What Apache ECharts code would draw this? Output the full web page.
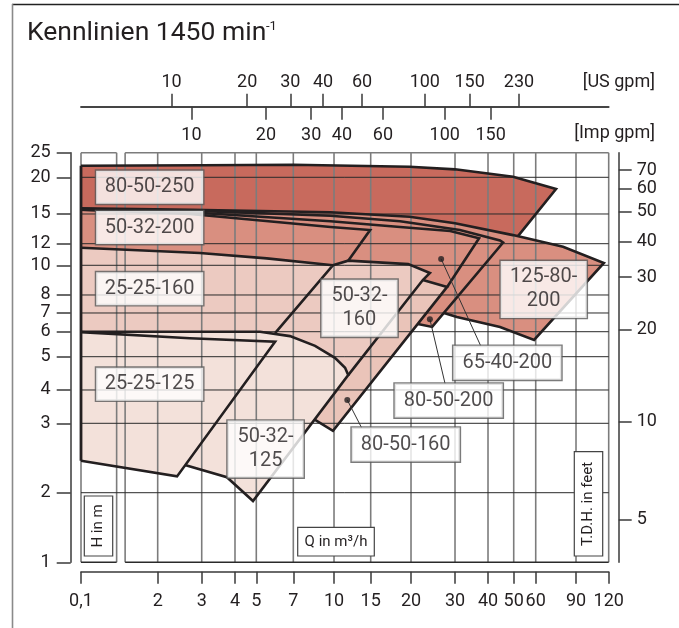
<!DOCTYPE html>
<html><head><meta charset="utf-8">
<script src="https://cdn.jsdelivr.net/npm/echarts@6/dist/echarts.min.js"></script>
<style>html,body{margin:0;padding:0;background:#fff}#c{width:679px;height:628px}</style>
</head><body><div id="c"></div>
<script>
// ---- calibration of the printed (nearly logarithmic) chart paper: value -> axis units (decades)
const xScaleKnots = [[1,0],[2,0.2998],[3,0.4719],[4,0.6020],[5,0.6853],[7,0.8300],[10,0.9891],[15,1.1325],[20,1.2901],[30,1.4621],[40,1.5911],[50,1.6916],[60,1.7776],[90,1.9351],[120,2.0629]];
const yScaleKnots = [[1,0],[2,0.2381],[3,0.4755],[4,0.5895],[5,0.7034],[6,0.7889],[7,0.8529],[8,0.9145],[10,1.0161],[12,1.0900],[15,1.1916],[20,1.3171],[25,1.4013]];

// ---- tick values / labels
const qTicks = [1,2,3,4,5,7,10,15,20,30,40,50,60,90,120];
const qTickLabels = ['0,1','2','3','4','5','7','10','15','20','30','40','50','60','90','120'];
const hTicks = [1,2,3,4,5,6,7,8,10,12,15,20,25];
const ftTicks = [5,10,20,30,40,50,60,70];
const usGpmTicks = [10,20,30,40,60,100,150,230];
const impGpmTicks = [10,20,30,40,60,100,150];
const qGridBreak = [1.38,1.49];

// ---- filled areas [Q m3/h, H m]
const mediumAreas = [[1,15.7],[2.7,15.5],[9.7,15.2],[19.8,14.7],[30,14.0],[49.7,12.8],[79,11.7],[115,10.2],[59.2,5.65],[44.4,6.24],[30.5,6.77],[27.1,7.0],[24.3,6.24],[21.3,6.39],[27.9,8.5],[22.3,8.95],[23.8,9.44],[19.6,10.1],[11.7,10.4],[9.9,10.0],[5.5,10.6],[2.95,11.1],[1,11.6]];
const area80_50_250 = [[1,22.2],[3,22.3],[7,22.4],[19.8,22.0],[30,21.5],[49.7,20.1],[73.6,18.25],[51.8,12.7],[49.7,12.8],[30,14.0],[19.8,14.7],[9.7,15.2],[2.7,15.5],[1,15.7]];
const area50_32_160 = [[9.9,10.0],[11.7,10.4],[19.6,10.1],[23.8,9.44],[22.3,8.95],[11.7,4.42],[11.3,4.64],[10.1,4.96],[8.47,5.41],[6.79,5.81],[5.93,5.94]];
const area80_50_160 = [[22.3,8.95],[27.9,8.5],[9.91,2.87],[8.47,3.09],[11.7,4.42]];
const area25_25_160 = [[1,11.6],[2.95,11.1],[5.5,10.6],[9.9,10.0],[5.93,5.94],[1,6.0]];
const area50_32_125 = [[1,6.0],[5.17,6.0],[6.79,5.81],[8.47,5.41],[10.1,4.96],[11.3,4.64],[11.7,4.42],[4.83,1.84],[3.73,2.19],[2.57,2.35],[1,2.41]];
const area25_25_125 = [[1,5.98],[2.69,5.72],[5.93,5.58],[2.39,2.2],[1,2.41]];

// ---- boundary curves
const line80_50_250 = [[1,22.2],[3,22.3],[7,22.4],[19.8,22.0],[30,21.5],[49.7,20.1],[73.6,18.25],[51.8,12.7]];
const line125_80_200 = [[1,15.7],[2.7,15.5],[9.7,15.2],[19.8,14.7],[30,14.0],[49.7,12.8],[79,11.7],[115,10.2],[59.2,5.65],[44.4,6.24],[30.5,6.77],[27.1,7.0]];
const line80_50_200 = [[1,15.6],[2.7,15.4],[9.7,14.8],[18.5,14.2],[31.3,13.3],[44.4,12.3],[45.6,12.1],[24.3,6.24],[21.3,6.39]];
const line65_40_200 = [[1,15.5],[2.7,15.2],[9.7,14.2],[18.5,13.6],[28.7,13.2],[37,12.5],[27.9,8.5]];
const line50_32_200 = [[1,15.5],[2.7,15.0],[9.7,13.6],[14.9,13.3],[11.7,10.4]];
const line25_25_160 = [[1,11.6],[2.95,11.1],[5.5,10.6],[9.9,10.0],[5.93,5.94]];
const line50_32_160 = [[9.9,10.0],[11.7,10.4],[19.6,10.1],[23.8,9.44],[22.3,8.95],[11.7,4.42]];
const line80_50_160 = [[22.3,8.95],[27.9,8.5],[9.91,2.87],[8.47,3.09]];
const line50_32_125 = [[1,6.0],[5.17,6.0],[6.79,5.81],[8.47,5.41],[10.1,4.96],[11.3,4.64],[11.7,4.42],[4.83,1.84],[3.73,2.19],[2.57,2.35]];
const line25_25_125 = [[1,5.98],[2.69,5.72],[5.93,5.58],[2.39,2.2],[1,2.41]];
const lineLeft = [[1,22.2],[1,2.41]];

// ---- labels [text, Q, H]
const boxLabels = [
  ['80-50-250',1.86,18.5],['50-32-200',1.86,13.55],['25-25-160',1.86,8.39],['25-25-125',1.86,4.16],
  ['50-32-\n125',5.44,2.58],['50-32-\n160',13.25,7.25],['125-80-\n200',65.0,8.34],
  ['65-40-200',47.3,4.8],['80-50-200',28.3,3.65],['80-50-160',19.26,2.65]
];
const leaders = [[[26.4,10.55],[37.5,5.42]],[[23.8,6.65],[27.4,4.16]],[[11.58,3.67],[13.58,2.92]]];

function makeWarp(k){
  return v => {
    let i = 0;
    while (i < k.length-2 && v > k[i+1][0]) i++;
    const a=k[i][0], ua=k[i][1], b=k[i+1][0], ub=k[i+1][1];
    return ua + (ub-ua)*(Math.log(v)-Math.log(a))/(Math.log(b)-Math.log(a));
  };
}
const ux = makeWarp(xScaleKnots), uy = makeWarp(yScaleKnots);
const XMAX = ux(120), YMAX = uy(25);
const P = p => [ux(p[0]), uy(p[1])];
const FONT = 'Roboto';
const INK = '#231f20';

function labelMap(vals, labels){ const m={}; vals.forEach((v,i)=>m[v.toFixed(6)]=labels[i]); return u=>m[u.toFixed(6)]||''; }

function fill(pts,color){
  return {type:'custom',z:1,silent:true,data:[P(pts[0])],
    renderItem:(params,api)=>({type:'polygon',shape:{points:pts.map(p=>api.coord(P(p)))},style:{fill:color}})};
}
function outline(pts,w,c,z){
  return {type:'line',z:z||3,silent:true,symbol:'none',data:pts.map(P),lineStyle:{color:c||INK,width:w||2.6,join:'miter'}};
}

// grid segments [q1,h1,q2,h2,kind]
const segs = [];
qTicks.concat(qGridBreak).forEach(q=>segs.push([q,1,q,25,'v']));
hTicks.filter(h=>h>1&&h<25).forEach(h=>segs.push([1,h,120,h,'h']));
segs.push([1,25,qGridBreak[0],25,'t'],[qGridBreak[1],25,120,25,'t']);
segs.push([1,1,qGridBreak[0],1,'b'],[qGridBreak[1],1,120,1,'b']);
const segStyle = {v:{stroke:'#7c7c7c',lineWidth:1.6},h:{stroke:'#2a2a2a',lineWidth:1},t:{stroke:'#7c7c7c',lineWidth:1.4},b:{stroke:'#2a2a2a',lineWidth:1.4}};

const gridSeries = {type:'custom',z:2,silent:true,
  data:segs.map(s=>[ux(s[0]),uy(s[1]),ux(s[2]),uy(s[3])]),
  encode:{x:[0,2],y:[1,3]},
  renderItem:(params,api)=>{
    const s=segs[params.dataIndex];
    const a=api.coord([api.value(0),api.value(1)]), b=api.coord([api.value(2),api.value(3)]);
    return {type:'line',shape:{x1:a[0],y1:a[1],x2:b[0],y2:b[1]},style:segStyle[s[4]]};
  }};

const axisLineStyle = {color:'#3a3a3a',width:1.5};
const labelStyle = {fontSize:18,color:INK,fontFamily:FONT};

const usU = usGpmTicks.map(g=>ux(g*0.22712));
const impU = impGpmTicks.map(g=>ux(g*0.27277));
const qU = qTicks.map(ux);
const hU = hTicks.map(uy);
const ftU = ftTicks.map(f=>uy(f*0.3048));

function boxLabel(b){
  const multi = b[0].indexOf('\n')>=0;
  let width = 91, pad=[5,8,6,8], lh=22;
  if (multi){ width = b[0].startsWith('125') ? 70 : 60; pad=[5,8,4,8]; lh=24; }
  if (['65-40-200','80-50-200','80-50-160'].includes(b[0])) { width=92; pad=[6,8,6,8]; }
  return {value:P([b[1],b[2]]),label:{show:true,position:'inside',formatter:b[0],fontSize:20,fontFamily:FONT,color:INK,
    backgroundColor:'#fff',borderColor:'#5a5a5a',borderWidth:1.4,padding:pad,width:width,align:'center',lineHeight:lh}};
}

const series = [
  fill(mediumAreas,'#d98f80'),
  fill(area80_50_250,'#c86a5d'),
  fill(area50_32_160,'#eccac1'),
  fill(area80_50_160,'#eac4b9'),
  fill(area25_25_160,'#eccac1'),
  fill(area50_32_125,'#f3e1da'),
  fill(area25_25_125,'#f3e1da'),
  gridSeries,
  outline(line125_80_200), outline(line80_50_200), outline(line65_40_200), outline(line50_32_200),
  outline(line80_50_250), outline(line25_25_160), outline(line50_32_160), outline(line80_50_160),
  outline(line50_32_125), outline(line25_25_125), outline(lineLeft,2.8)
];
leaders.forEach(l=>series.push(outline(l,1,'#333',4)));
series.push({type:'scatter',z:4,silent:true,symbolSize:6,itemStyle:{color:INK},data:leaders.map(l=>P(l[0]))});
series.push({type:'scatter',z:5,silent:true,symbolSize:1,itemStyle:{color:'rgba(0,0,0,0)'},data:boxLabels.map(boxLabel)});

function axisBase(){ return {z:6,axisLine:{show:true,onZero:false,lineStyle:axisLineStyle},splitLine:{show:false},splitArea:{show:false}}; }

const chart = echarts.init(document.getElementById('c'),null,{renderer:'canvas'});
chart.setOption({
  animation:false,
  backgroundColor:'#fff',
  grid:{left:81,right:70.3,top:152.7,bottom:65.7,containLabel:false},
  xAxis:[
    Object.assign(axisBase(),{type:'value',min:0,max:XMAX,position:'bottom',offset:9.4,
      axisTick:{show:true,customValues:qU,length:12,lineStyle:axisLineStyle},
      axisLabel:Object.assign({show:true,customValues:qU,margin:21,formatter:labelMap(qU,qTickLabels)},labelStyle)}),
    Object.assign(axisBase(),{type:'value',min:0,max:XMAX,position:'top',offset:46,
      axisTick:{show:true,customValues:usU,length:13,lineStyle:axisLineStyle},
      axisLabel:Object.assign({show:true,customValues:usU,margin:15,formatter:labelMap(usU,usGpmTicks.map(String))},labelStyle)}),
    Object.assign(axisBase(),{type:'value',min:0,max:XMAX,position:'top',offset:46,
      axisTick:{show:true,customValues:impU,inside:true,length:13,lineStyle:axisLineStyle},
      axisLabel:Object.assign({show:true,customValues:impU,inside:true,margin:20,formatter:labelMap(impU,impGpmTicks.map(String))},labelStyle)})
  ],
  yAxis:[
    Object.assign(axisBase(),{type:'value',min:0,max:YMAX,position:'left',offset:10.3,
      axisTick:{show:true,customValues:hU,length:14,lineStyle:axisLineStyle},
      axisLabel:Object.assign({show:true,customValues:hU,margin:20,formatter:labelMap(hU,hTicks.map(String))},labelStyle)}),
    Object.assign(axisBase(),{type:'value',min:0,max:YMAX,position:'right',offset:10,
      axisTick:{show:true,customValues:ftU,length:13,lineStyle:axisLineStyle},
      axisLabel:Object.assign({show:true,customValues:ftU,margin:18,formatter:labelMap(ftU,ftTicks.map(String))},labelStyle)})
  ],
  graphic:[
    {type:'line',shape:{x1:12,y1:4.5,x2:679,y2:4.5},style:{stroke:'#222',lineWidth:1.5},silent:true},
    {type:'line',shape:{x1:12.5,y1:4,x2:12.5,y2:628},style:{stroke:'#8a8a8a',lineWidth:1.6},silent:true},
    {type:'text',x:27,y:33,style:{text:'Kennlinien 1450 min',font:'26.5px '+FONT,fill:INK,verticalAlign:'middle'},silent:true},
    {type:'text',x:266,y:27,style:{text:'-1',font:'13px '+FONT,fill:INK,verticalAlign:'middle'},silent:true},
    {type:'text',x:655,y:82,style:{text:'[US gpm]',font:'18px '+FONT,fill:INK,align:'right',verticalAlign:'middle'},silent:true},
    {type:'text',x:655,y:133,style:{text:'[Imp gpm]',font:'18px '+FONT,fill:INK,align:'right',verticalAlign:'middle'},silent:true},
    {type:'rect',shape:{x:84.3,y:496,width:28.4,height:60},style:{fill:'#fff',stroke:'#444',lineWidth:1.2},z:10,silent:true},
    {type:'text',x:98.5,y:526,rotation:Math.PI/2,style:{text:'H in m',font:'15px '+FONT,fill:INK,align:'center',verticalAlign:'middle'},z:11,silent:true},
    {type:'rect',shape:{x:297.7,y:527.3,width:76.6,height:28.7},style:{fill:'#fff',stroke:'#444',lineWidth:1.2},z:10,silent:true},
    {type:'text',x:336,y:542,style:{text:'Q in m³/h',font:'15px '+FONT,fill:INK,align:'center',verticalAlign:'middle'},z:11,silent:true},
    {type:'rect',shape:{x:574.3,y:451.7,width:28.4,height:104.3},style:{fill:'#fff',stroke:'#444',lineWidth:1.2},z:10,silent:true},
    {type:'text',x:588.5,y:504,rotation:Math.PI/2,style:{text:'T.D.H. in feet',font:'15px '+FONT,fill:INK,align:'center',verticalAlign:'middle'},z:11,silent:true}
  ],
  series:series
});
</script></body></html>
